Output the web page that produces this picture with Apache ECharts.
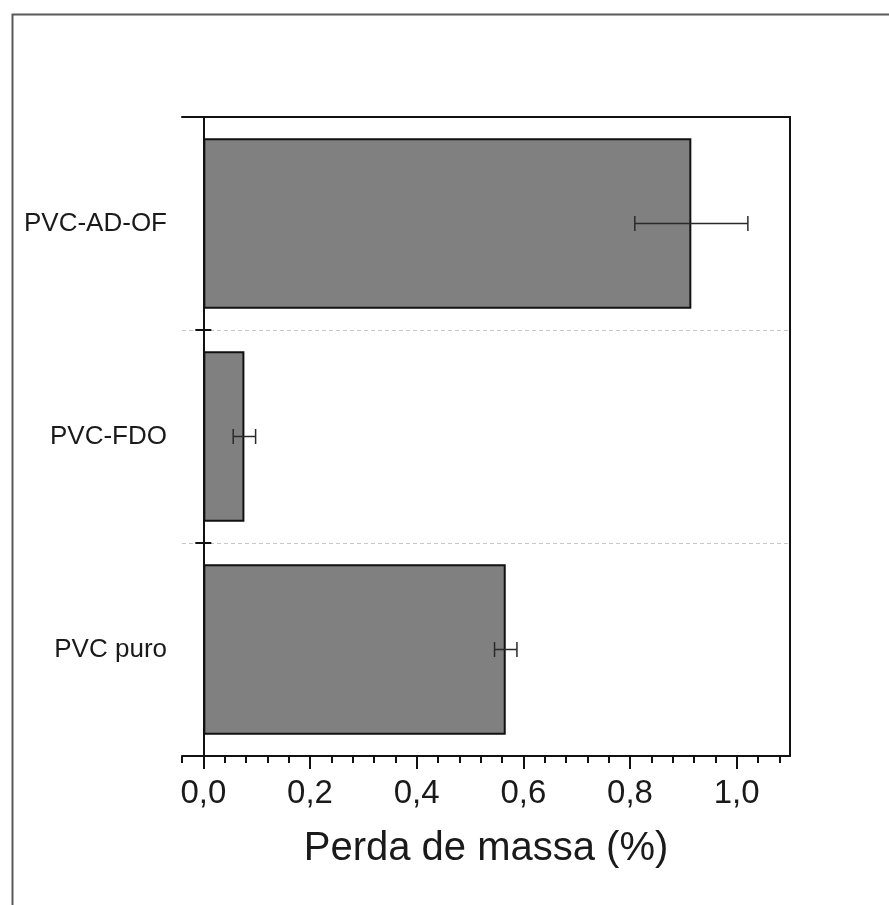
<!DOCTYPE html>
<html>
<head>
<meta charset="utf-8">
<script src="https://cdn.jsdelivr.net/npm/echarts@6/dist/echarts.min.js"></script>
<style>
html,body{margin:0;padding:0;background:#fff;}
#chart{width:889px;height:905px;}
</style>
</head>
<body>
<div id="chart"></div>
<script>
// ---- data ----
const categories = ['PVC puro', 'PVC-FDO', 'PVC-AD-OF'];
const massLoss = [0.567, 0.077, 0.915];
const massLossErr = [0.021, 0.021, 0.106];
const majorTicks = [0, 0.2, 0.4, 0.6, 0.8, 1.0];
const minorTicks = [-0.04, 0.04, 0.08, 0.12, 0.16, 0.24, 0.28, 0.32, 0.36, 0.44, 0.48, 0.52, 0.56, 0.64, 0.68, 0.72, 0.76, 0.84, 0.88, 0.92, 0.96, 1.04, 1.08];
const xTitle = 'Perda de massa (%)';

const errData = categories.map((c, i) => [i, massLoss[i] - massLossErr[i], massLoss[i] + massLossErr[i]]);

const FONT = 'Liberation Sans, Arial, sans-serif';
const chart = echarts.init(document.getElementById('chart'), null, {renderer: 'canvas'});

const option = {
  backgroundColor: '#fff',
  animation: false,
  graphic: [{
    type: 'rect', left: 10, top: 12, silent: true,
    shape: {width: 940, height: 940},
    style: {fill: 'none', stroke: '#5a5a5a', lineWidth: 2}
  }],
  grid: {left: 182, right: 99, top: 117, bottom: 149, containLabel: false},
  xAxis: [
    {
      type: 'value', position: 'bottom', min: -0.04, max: 1.1,
      axisLine: {show: true, onZero: false, lineStyle: {color: '#111', width: 2}},
      axisTick: {show: true, length: 13, customValues: majorTicks, lineStyle: {color: '#111', width: 2}},
      axisLabel: {
        show: true, customValues: majorTicks, margin: 21,
        fontFamily: FONT, fontSize: 33, color: '#1a1a1a',
        formatter: v => v.toFixed(1).replace('.', ',')
      },
      splitLine: {show: false},
      name: xTitle, nameLocation: 'middle', nameGap: 73,
      nameTextStyle: {fontFamily: FONT, fontSize: 40, color: '#1a1a1a'}
    },
    {
      type: 'value', position: 'bottom', min: -0.04, max: 1.1,
      axisLine: {show: false, onZero: false},
      axisTick: {show: true, length: 7, customValues: minorTicks, lineStyle: {color: '#111', width: 2}},
      axisLabel: {show: false},
      splitLine: {show: false}
    },
    {
      type: 'value', position: 'top', min: -0.04, max: 1.1,
      axisLine: {show: true, onZero: false, lineStyle: {color: '#111', width: 2}},
      axisTick: {show: false}, axisLabel: {show: false}, splitLine: {show: false}
    }
  ],
  yAxis: [
    {
      type: 'category', data: categories, position: 'left',
      axisLine: {show: true, onZero: true, onZeroAxisIndex: 0, lineStyle: {color: '#111', width: 2}},
      axisTick: {show: true, inside: false, length: 8, lineStyle: {color: '#111', width: 2}},
      axisLabel: {show: true, margin: 15, fontFamily: FONT, fontSize: 26, color: '#1a1a1a'},
      splitLine: {show: true, lineStyle: {color: '#c8c8c8', width: 1, type: [4, 3]}}
    },
    {
      type: 'category', data: categories, position: 'left',
      axisLine: {show: false, onZero: true, onZeroAxisIndex: 0},
      axisTick: {show: true, inside: true, length: 8, lineStyle: {color: '#111', width: 2}},
      axisLabel: {show: false}, splitLine: {show: false}
    },
    {
      type: 'category', data: categories, position: 'right',
      axisLine: {show: true, onZero: false, lineStyle: {color: '#111', width: 2}},
      axisTick: {show: false}, axisLabel: {show: false}, splitLine: {show: false}
    }
  ],
  series: [
    {
      type: 'bar', xAxisIndex: 0, yAxisIndex: 0,
      data: massLoss, barWidth: '80%',
      itemStyle: {color: '#808080', borderColor: '#111', borderWidth: 2}
    },
    {
      type: 'custom', xAxisIndex: 0, yAxisIndex: 0,
      data: errData, z: 10,
      renderItem: function (params, api) {
        const cat = api.value(0);
        const p1 = api.coord([api.value(1), cat]);
        const p2 = api.coord([api.value(2), cat]);
        const h = 7.5;
        const st = {stroke: '#2a2a2a', lineWidth: 1.5};
        return {
          type: 'group',
          children: [
            {type: 'line', shape: {x1: p1[0], y1: p1[1], x2: p2[0], y2: p2[1]}, style: st},
            {type: 'line', shape: {x1: p1[0], y1: p1[1] - h, x2: p1[0], y2: p1[1] + h}, style: st},
            {type: 'line', shape: {x1: p2[0], y1: p2[1] - h, x2: p2[0], y2: p2[1] + h}, style: st}
          ]
        };
      }
    }
  ]
};
chart.setOption(option);
</script>
</body>
</html>
